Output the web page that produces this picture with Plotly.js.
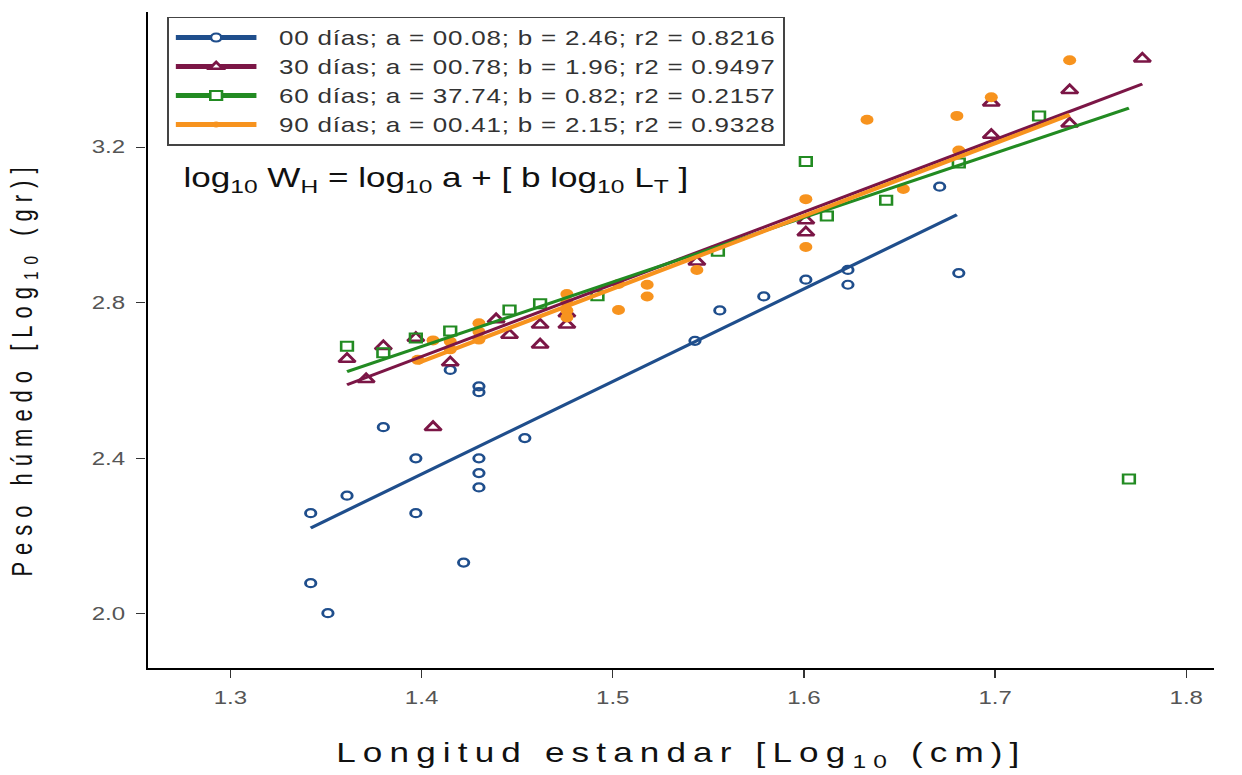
<!DOCTYPE html>
<html>
<head>
<meta charset="utf-8">
<script src="https://cdn.plot.ly/plotly-3.0.1.min.js"></script>
<style>
  html, body { margin: 0; padding: 0; background: #fff; overflow: hidden; }
  #chart { width: 955px; height: 775px; transform: scaleX(1.3); transform-origin: 0 0; }
  .legendtext { letter-spacing: 0.6px; }
</style>
</head>
<body>
<div id="chart"></div>
<script>
// ---- Data (log10 values) ----
const seriesNames = [
  "\u00a0\u00a000 días; a = 00.08; b = 2.46; r2 = 0.8216",
  "\u00a0\u00a030 días; a = 00.78; b = 1.96; r2 = 0.9497",
  "\u00a0\u00a060 días; a = 37.74; b = 0.82; r2 = 0.2157",
  "\u00a0\u00a090 días; a = 00.41; b = 2.15; r2 = 0.9328"
];

const d00_x = [1.342, 1.342, 1.351, 1.361, 1.380, 1.397, 1.397, 1.415, 1.422, 1.430, 1.430, 1.430, 1.430, 1.430, 1.454, 1.543, 1.556, 1.579, 1.601, 1.623, 1.623, 1.671, 1.681];
const d00_y = [2.259, 2.079, 2.002, 2.304, 2.480, 2.400, 2.259, 2.627, 2.132, 2.585, 2.570, 2.400, 2.362, 2.325, 2.452, 2.702, 2.780, 2.816, 2.859, 2.884, 2.846, 3.098, 2.876];

const d30_x = [1.361, 1.371, 1.380, 1.397, 1.406, 1.415, 1.439, 1.446, 1.462, 1.462, 1.476, 1.476, 1.544, 1.601, 1.601, 1.698, 1.698, 1.739, 1.739, 1.777];
const d30_y = [2.655, 2.603, 2.688, 2.709, 2.480, 2.646, 2.757, 2.717, 2.743, 2.692, 2.743, 2.772, 2.905, 3.011, 2.980, 3.314, 3.231, 3.346, 3.260, 3.427];

const d60_x = [1.361, 1.380, 1.397, 1.415, 1.446, 1.462, 1.492, 1.555, 1.601, 1.612, 1.643, 1.681, 1.723, 1.770];
const d60_y = [2.688, 2.671, 2.709, 2.727, 2.781, 2.797, 2.818, 2.932, 3.163, 3.023, 3.063, 3.159, 3.280, 2.347];

const d90_x = [1.398, 1.406, 1.415, 1.415, 1.430, 1.430, 1.430, 1.476, 1.476, 1.476, 1.476, 1.503, 1.503, 1.518, 1.518, 1.544, 1.601, 1.601, 1.633, 1.652, 1.680, 1.681, 1.698, 1.739];
const d90_y = [2.653, 2.703, 2.700, 2.680, 2.747, 2.725, 2.705, 2.822, 2.800, 2.780, 2.762, 2.848, 2.781, 2.846, 2.816, 2.884, 3.066, 2.943, 3.270, 3.092, 3.280, 3.191, 3.328, 3.423];

// regression lines (start / end of each fitted line)
const fit00_x = [1.342, 1.680], fit00_y = [2.221, 3.026];
const fit30_x = [1.361, 1.777], fit30_y = [2.589, 3.362];
const fit60_x = [1.361, 1.770], fit60_y = [2.623, 3.300];
const fit90_x = [1.398, 1.739], fit90_y = [2.645, 3.283];

const xTicks = [1.3, 1.4, 1.5, 1.6, 1.7, 1.8];
const yTicks = [2.0, 2.4, 2.8, 3.2];

// ---- Styles ----
const colors = ["#1f4e8c", "#7b1646", "#228b22", "#f7931e"];

const traces = [
  // data points
  {x: d00_x, y: d00_y, mode: "markers", type: "scatter", showlegend: false,
   marker: {symbol: "circle-open", size: 8, color: colors[0], line: {width: 2.2, color: colors[0]}}},
  {x: d30_x, y: d30_y, mode: "markers", type: "scatter", showlegend: false,
   marker: {symbol: "triangle-up-open", size: 11, color: colors[1], line: {width: 2.5, color: colors[1]}}},
  {x: d60_x, y: d60_y, mode: "markers", type: "scatter", showlegend: false,
   marker: {symbol: "square-open", size: 9, color: colors[2], line: {width: 2, color: colors[2]}}},
  {x: d90_x, y: d90_y, mode: "markers", type: "scatter", showlegend: false,
   marker: {symbol: "circle", size: 10, color: colors[3]}},
  // fitted lines
  {x: fit00_x, y: fit00_y, mode: "lines", type: "scatter", showlegend: false, line: {color: colors[0], width: 3}},
  {x: fit30_x, y: fit30_y, mode: "lines", type: "scatter", showlegend: false, line: {color: colors[1], width: 3}},
  {x: fit60_x, y: fit60_y, mode: "lines", type: "scatter", showlegend: false, line: {color: colors[2], width: 3}},
  {x: fit90_x, y: fit90_y, mode: "lines", type: "scatter", showlegend: false, line: {color: colors[3], width: 4}},
  // legend entries
  {x: [null], y: [null], mode: "lines+markers", type: "scatter", name: seriesNames[0],
   line: {color: colors[0], width: 5}, marker: {symbol: "circle", size: 8, color: "#fff", line: {width: 2, color: colors[0]}}},
  {x: [null], y: [null], mode: "lines+markers", type: "scatter", name: seriesNames[1],
   line: {color: colors[1], width: 5}, marker: {symbol: "triangle-up", size: 9, color: "#fff", line: {width: 2.5, color: colors[1]}}},
  {x: [null], y: [null], mode: "lines+markers", type: "scatter", name: seriesNames[2],
   line: {color: colors[2], width: 5}, marker: {symbol: "square", size: 9, color: "#fff", line: {width: 2, color: colors[2]}}},
  {x: [null], y: [null], mode: "lines+markers", type: "scatter", name: seriesNames[3],
   line: {color: colors[3], width: 5}, marker: {symbol: "circle", size: 6, color: colors[3]}}
];

const font = "Liberation Sans, Arial, Helvetica, sans-serif";

const layout = {
  width: 955, height: 775, autosize: false,
  paper_bgcolor: "#fff", plot_bgcolor: "#fff",
  margin: {l: 114, r: 21, t: 12, b: 107},
  font: {family: font, color: "#333"},
  xaxis: {
    range: [1.257, 1.8146], tickvals: xTicks, tickformat: ".1f",
    showgrid: false, zeroline: false, showline: true, linecolor: "#000", linewidth: 2.2,
    ticks: "outside", ticklen: 8, tickwidth: 1, tickcolor: "#333",
    tickfont: {family: font, size: 18.5, color: "#555"}, ticklabelstandoff: 4
  },
  yaxis: {
    range: [1.861, 3.547], tickvals: yTicks, tickformat: ".1f",
    showgrid: false, zeroline: false, showline: true, linecolor: "#000", linewidth: 2.2,
    ticks: "outside", ticklen: 7, tickwidth: 1, tickcolor: "#333",
    tickfont: {family: font, size: 18.5, color: "#555"}, ticklabelstandoff: 5
  },
  showlegend: true,
  legend: {
    x: 0.018, y: 0.993, xanchor: "left", yanchor: "top",
    bgcolor: "#fff", bordercolor: "#444", borderwidth: 1.5,
    font: {family: font, size: 20, color: "#333"},
    itemwidth: 62, tracegroupgap: 0
  },
  annotations: [
    {xref: "paper", yref: "paper", x: 0.03, y: 0.744, xanchor: "left", yanchor: "middle",
     showarrow: false, font: {family: font, size: 27, color: "#111"},
     text: "log<sub>10</sub> W<sub>H</sub> = log<sub>10</sub> a + [ b log<sub>10</sub> L<sub>T</sub> ]"},
    {xref: "paper", yref: "paper", x: 0.5, y: -0.1326, xanchor: "center", yanchor: "middle",
     showarrow: false, font: {family: font, size: 27, color: "#111"},
     text: "Longitud estandar [Log<sub>10</sub> (cm)]"},
    {xref: "paper", yref: "paper", x: -0.1165, y: 0.457, xanchor: "center", yanchor: "middle",
     showarrow: false, textangle: -90, font: {family: font, size: 22, color: "#111"},
     text: "Peso húmedo [Log<sub>10</sub> (gr)]"}
  ]
};

Plotly.newPlot("chart", traces, layout, {displayModeBar: false}).then(function () {
  document.querySelectorAll(".annotation-text").forEach(function (t) {
    const s = t.textContent;
    if (s.indexOf("Longitud") === 0) t.style.letterSpacing = "5.5px";
    else if (s.indexOf("Peso") === 0) t.style.letterSpacing = "7px";
  });
});
</script>
</body>
</html>
